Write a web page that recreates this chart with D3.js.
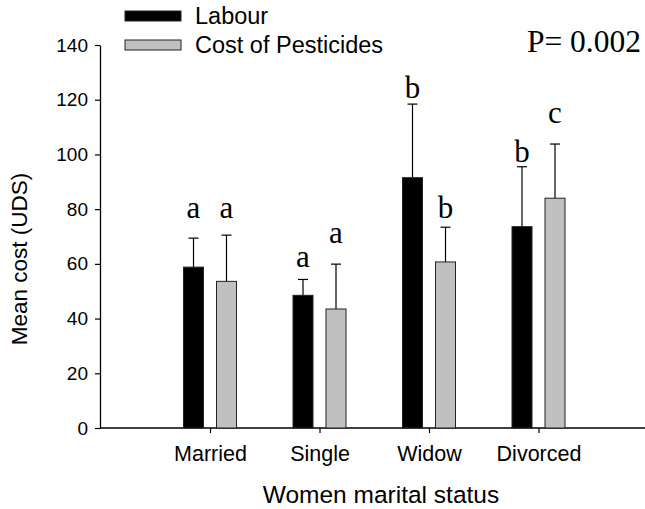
<!DOCTYPE html>
<html><head><meta charset="utf-8">
<script src="https://cdn.jsdelivr.net/npm/d3@7"></script>
<style>body{margin:0;background:#fff}svg{display:block}</style>
</head><body>
<script>
const categories = ["Married","Single","Widow","Divorced"];
const seriesNames = ["Labour","Cost of Pesticides"];
const labour = [58.8, 48.5, 91.5, 73.6];
const labourErr = [10.6, 5.8, 26.9, 21.9];
const pesticides = [53.6, 43.5, 60.7, 84.0];
const pesticidesErr = [16.9, 16.4, 12.7, 19.8];
const labourLetters = ["a","a","b","b"];
const pesticideLetters = ["a","a","b","c"];
const labourLetterAt = [76.8, 58.8, 120.6, 97.2];
const pesticideLetterAt = [76.8, 67.6, 76.8, 111.5];
const yTicks = [0,20,40,60,80,100,120,140];
const pValue = "P= 0.002";
const xTitle = "Women marital status";
const yTitle = "Mean cost (UDS)";

const W = 645, H = 509;
const svg = d3.select("body").append("svg").attr("width", W).attr("height", H);
const sans = "'Liberation Sans', Arial, sans-serif";
const serif = "'Liberation Serif', 'Times New Roman', serif";

const y = d3.scaleLinear().domain([0,140]).range([428,45]);
const x = d3.scaleLinear().domain([0,5]).range([100.5,648]);
const colors = ["#000000","#c0c0c0"];
const off = [-16.5, 16.5];
const bw = 20;

const series = [
  {vals: labour, err: labourErr, letters: labourLetters, at: labourLetterAt},
  {vals: pesticides, err: pesticidesErr, letters: pesticideLetters, at: pesticideLetterAt}
];

// axes
const yAxis = d3.axisLeft(y).tickValues(yTicks).tickSize(5).tickPadding(7).tickSizeOuter(0);
const gy = svg.append("g").attr("transform","translate(100,0)").call(yAxis);
gy.select(".domain").attr("stroke","#000").attr("stroke-width",1.3);
gy.selectAll(".tick line").attr("stroke","#000").attr("stroke-width",1.2);
gy.selectAll(".tick text").attr("font-family",sans).attr("font-size",19).attr("fill","#000");

const xAxis = d3.axisBottom(x).tickValues([1,2,3,4]).tickFormat(d=>categories[d-1]).tickSize(5).tickPadding(13).tickSizeOuter(0);
const gx = svg.append("g").attr("transform","translate(0,428)").call(xAxis);
gx.select(".domain").attr("d","M100,0H645").attr("stroke","#000").attr("stroke-width",1.3);
gx.selectAll(".tick line").attr("stroke","#000").attr("stroke-width",1.2);
gx.selectAll(".tick text").attr("font-family",sans).attr("font-size",21.5).attr("fill","#000");

// bars
series.forEach((s,si)=>{
  const g = svg.append("g");
  categories.forEach((c,i)=>{
    const cx = x(i+1) + off[si];
    g.append("line").attr("x1",cx).attr("x2",cx).attr("y1",y(s.vals[i])).attr("y2",y(s.vals[i]+s.err[i]))
      .attr("stroke","#000").attr("stroke-width",1.2);
    g.append("line").attr("x1",cx-5).attr("x2",cx+5).attr("y1",y(s.vals[i]+s.err[i])).attr("y2",y(s.vals[i]+s.err[i]))
      .attr("stroke","#000").attr("stroke-width",1.2);
    g.append("rect").attr("x",cx-bw/2).attr("y",y(s.vals[i])).attr("width",bw).attr("height",y(0)-y(s.vals[i]))
      .attr("fill",colors[si]).attr("stroke","#222").attr("stroke-width",1);
    g.append("text").attr("x",cx).attr("y",y(s.at[i])).attr("text-anchor","middle")
      .attr("font-family",serif).attr("font-size",31).attr("fill","#000").text(s.letters[i]);
  });
});

// titles
svg.append("text").attr("x",381).attr("y",503).attr("text-anchor","middle")
  .attr("font-family",sans).attr("font-size",24.5).text(xTitle);
svg.append("text").attr("transform","translate(27,259) rotate(-90)").attr("text-anchor","middle")
  .attr("font-family",sans).attr("font-size",22.5).text(yTitle);

// legend
seriesNames.forEach((n,i)=>{
  const ly = 16 + i*29;
  svg.append("rect").attr("x",125).attr("y",ly-5).attr("width",56).attr("height",10)
    .attr("fill",colors[i]).attr("stroke","#222").attr("stroke-width",1);
  svg.append("text").attr("x",195).attr("y",ly+8).attr("font-family",sans).attr("font-size",23.5).text(n);
});

svg.append("text").attr("x",641).attr("y",52).attr("text-anchor","end")
  .attr("font-family",serif).attr("font-size",31.5).text(pValue);
</script>
</body></html>
